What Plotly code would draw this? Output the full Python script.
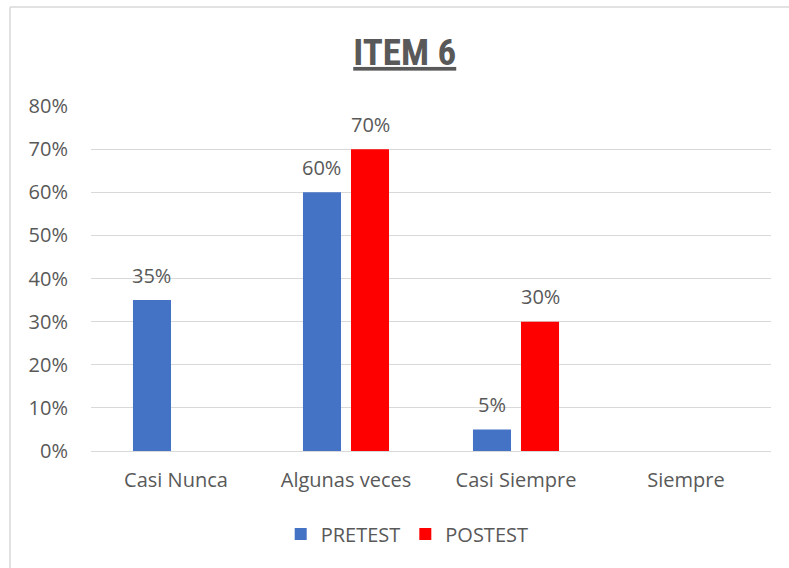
import plotly.graph_objects as go

categories = ["Casi Nunca", "Algunas veces", "Casi Siempre", "Siempre"]
pretest = [0.35, 0.60, 0.05, 0.0]
postest = [0.0, 0.70, 0.30, 0.0]
series_names = ["PRETEST", "POSTEST"]
tick_vals = [0, 0.1, 0.2, 0.3, 0.4, 0.5, 0.6, 0.7, 0.8]
tick_text = ["0%", "10%", "20%", "30%", "40%", "50%", "60%", "70%", "80%"]

colors = ["#4472C4", "#FF0000"]
font_fam = "Open Sans, Lato, sans-serif"
txt_col = "#595959"
fs = 20

fig = go.Figure()
for name, vals, col in zip(series_names, [pretest, postest], colors):
    fig.add_trace(go.Bar(x=categories, y=vals, name=name, marker_color=col,
                         marker_line_width=0))

# data labels above non-zero bars
W, L, R = 789, 91, 18
plot_w = W - L - R
cat_w = plot_w / len(categories)
bargap = 0.435
bargroupgap = 0.208
slot = cat_w * (1 - bargap) / 2
for i, vals in enumerate([pretest, postest]):
    shift = (i - 0.5) * slot
    for c, v in zip(categories, vals):
        if v > 0:
            fig.add_annotation(x=c, y=v, text=f"{round(v*100)}%", showarrow=False,
                               xshift=shift, yshift=25, yanchor="middle",
                               font=dict(family=font_fam, size=fs, color=txt_col))

fig.update_layout(
    width=789, height=568,
    margin=dict(l=L, r=R, t=106, b=117),
    paper_bgcolor="white", plot_bgcolor="white",
    barmode="group", bargap=bargap, bargroupgap=bargroupgap,
    title=dict(text="<b><u>ITEM 6</u></b>", x=0.513, xanchor="center",
               y=1 - 52/568, yanchor="middle",
               font=dict(family="Liberation Sans Narrow, Roboto Condensed, Lato, sans-serif",
                         size=37, color=txt_col)),
    font=dict(family=font_fam, size=fs, color=txt_col),
    legend=dict(orientation="h", x=0.465, xanchor="center", y=(451-534)/345,
                yanchor="middle", font=dict(family=font_fam, size=fs, color=txt_col),
                itemwidth=30, traceorder="normal"),
    showlegend=True,
)
fig.update_yaxes(range=[0, 0.8], tickvals=tick_vals, ticktext=tick_text,
                 showgrid=True, gridcolor="#D9D9D9", gridwidth=1.3,
                 zeroline=False, showline=False, ticks="", ticklabelstandoff=22,
                 tickfont=dict(family=font_fam, size=fs, color=txt_col))
fig.update_xaxes(showline=True, linecolor="#D9D9D9", linewidth=1.3, ticks="",
                 ticklabelstandoff=11,
                 tickfont=dict(family=font_fam, size=fs, color=txt_col))

# outer chart border (left and top)
fig.add_shape(type="line", xref="paper", yref="paper",
              x0=(10-L)/plot_w, x1=(10-L)/plot_w, y0=(451-568)/345, y1=(451-7)/345,
              line=dict(color="#D9D9D9", width=1.5))
fig.add_shape(type="line", xref="paper", yref="paper",
              x0=(10-L)/plot_w, x1=(789-L)/plot_w, y0=(451-7)/345, y1=(451-7)/345,
              line=dict(color="#D9D9D9", width=1.5))

fig.write_html("out.html")
